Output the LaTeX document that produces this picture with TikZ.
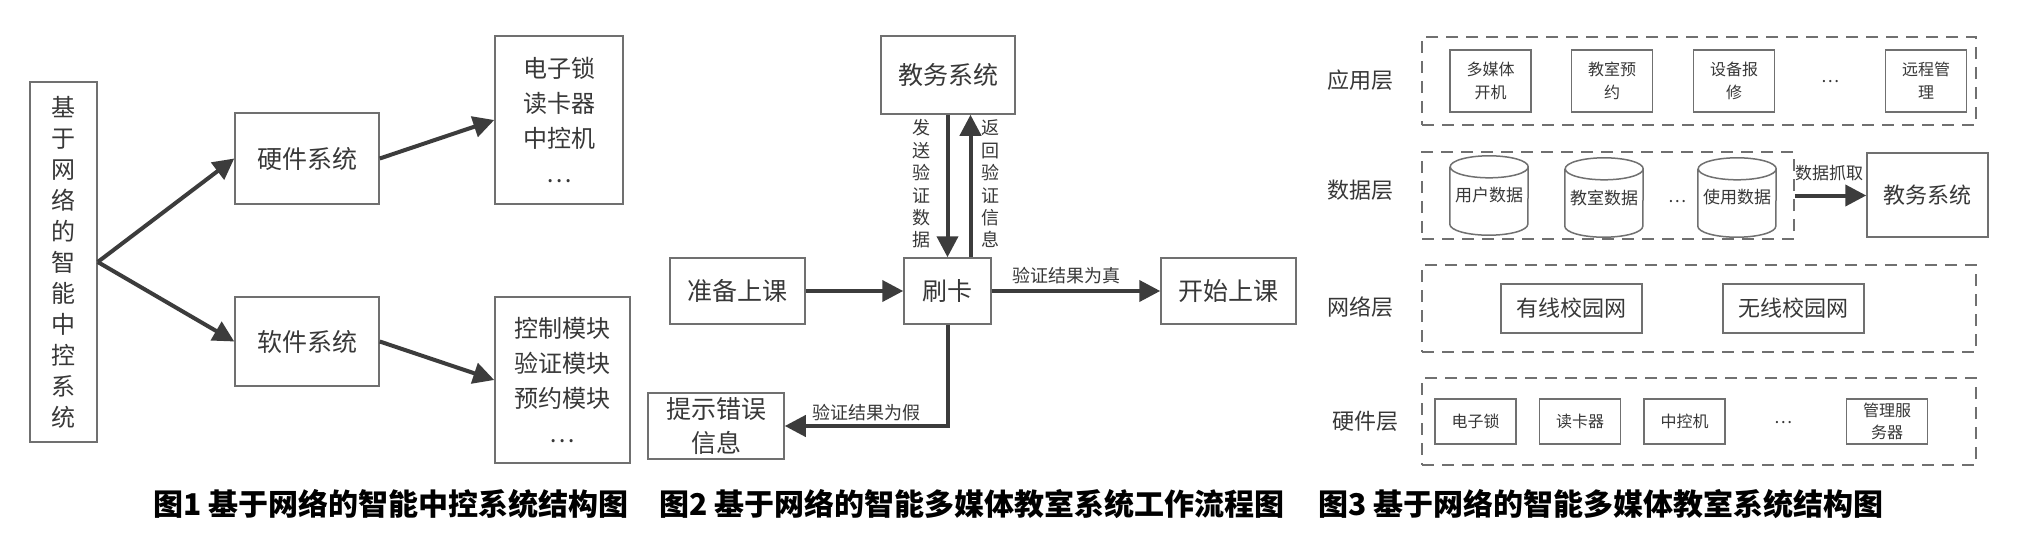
\documentclass[tikz,border=0pt]{standalone}
\usepackage{fontspec}
\setmainfont{Noto Sans CJK SC}
\usetikzlibrary{arrows.meta}
\definecolor{boxc}{HTML}{707070}
\definecolor{arrc}{HTML}{3C3C3C}
\definecolor{txtc}{HTML}{383838}
\newcommand{\fs}[2]{\fontsize{#1}{#2}\selectfont}
\newcommand{\drawcyl}[1]{%
  \draw[draw=boxc, line width=1.5pt] ([yshift=-11pt]#1.north west) -- ([yshift=11pt]#1.south west)
    arc[start angle=180, end angle=360, x radius=39pt, y radius=11pt]
    -- ([yshift=-11pt]#1.north east)
    arc[start angle=0, end angle=360, x radius=39pt, y radius=11pt];}
\begin{document}
\begin{tikzpicture}[x=1pt,y=-1pt,
  box/.style={draw=boxc, line width=1.5pt, rectangle, inner sep=0pt, align=center, text=txtc},
  sbox/.style={box, minimum width=81pt, font=\fs{16}{23}},
  dbox/.style={draw=boxc, line width=1.8pt, dash pattern=on 12pt off 8pt, rectangle, inner sep=0pt},
  arr/.style={draw=arrc, line width=4pt, -{Triangle[length=21pt,width=21pt]}},
  lbl/.style={text=txtc, inner sep=0pt, align=center},
  capt/.style={anchor=west, inner sep=0pt, font=\fs{30}{36}\bfseries, text=black}
]
\useasboundingbox[fill=white] (0,0) rectangle (2021,533);

% ---------- Figure 1 ----------
\node[box, minimum width=67pt, minimum height=360pt, font=\fs{24}{31}] (sys) at (63.5,262)
  {基\\于\\网\\络\\的\\智\\能\\中\\控\\系\\统};
\node[box, minimum width=144pt, minimum height=91pt, font=\fs{25}{30}] (hw) at (307,158.5) {硬件系统};
\node[box, minimum width=144pt, minimum height=89pt, font=\fs{25}{30}] (sw) at (307,341.5) {软件系统};
\node[box, minimum width=128pt, minimum height=168pt, font=\fs{24}{35}] (hwl) at (559,120)
  {电子锁\\读卡器\\中控机\\…};
\node[box, minimum width=135pt, minimum height=166pt, font=\fs{24}{35}] (swl) at (562.5,380)
  {控制模块\\验证模块\\预约模块\\…};
\draw[arr] (sys.east) -- (hw.west);
\draw[arr] (sys.east) -- (sw.west);
\draw[arr] (hw.east) -- (hwl.west);
\draw[arr] (sw.east) -- (swl.west);

% ---------- Figure 2 ----------
\node[box, minimum width=134pt, minimum height=78pt, font=\fs{25}{30}] (jw) at (948,75) {教务系统};
\node[box, minimum width=87pt, minimum height=66pt, font=\fs{25}{30}] (sk) at (947.5,291) {刷卡};
\node[box, minimum width=135pt, minimum height=66pt, font=\fs{25}{30}] (zb) at (737.5,291) {准备上课};
\node[box, minimum width=135pt, minimum height=66pt, font=\fs{25}{30}] (ks) at (1228.5,291) {开始上课};
\node[box, minimum width=136pt, minimum height=66pt, font=\fs{25}{34}] (ts) at (716,426) {提示错误\\信息};
\draw[arr] (jw.south -| sk.north) -- (sk.north);
\draw[arr] ([xshift=23pt]sk.north) -- ([xshift=23pt]sk.north |- jw.south);
\node[lbl, font=\fs{18}{22.4}] (lsend) at (921,184) {发\\送\\验\\证\\数\\据};
\node[lbl, font=\fs{18}{22.4}] (lret) at (990,184) {返\\回\\验\\证\\信\\息};
\draw[arr] (zb.east) -- (sk.west);
\draw[arr] (sk.east) -- (ks.west);
\node[lbl, font=\fs{18}{22}] (ltrue) at (1066,276) {验证结果为真};
\draw[arr] (sk.south) |- (ts.east);
\node[lbl, font=\fs{18}{22}] (lfalse) at (866,413) {验证结果为假};

% ---------- Figure 3 ----------
\node[lbl, font=\fs{22}{26}] (la1) at (1360,80) {应用层};
\node[lbl, font=\fs{22}{26}] (la2) at (1360,190) {数据层};
\node[lbl, font=\fs{22}{26}] (la3) at (1360,307) {网络层};
\node[lbl, font=\fs{22}{26}] (la4) at (1365,421) {硬件层};

\node[dbox, minimum width=554pt, minimum height=88pt] (d1) at (1699,81) {};
\node[dbox, minimum width=372pt, minimum height=87pt] (d2) at (1608,195.5) {};
\node[dbox, minimum width=554pt, minimum height=87pt] (d3) at (1699,308.5) {};
\node[dbox, minimum width=554pt, minimum height=87pt] (d4) at (1699,421.5) {};

\node[sbox, minimum height=62pt] (a1) at (1490.5,81) {多媒体\\开机};
\node[sbox, minimum height=62pt] (a2) at (1612,81) {教室预\\约};
\node[sbox, minimum height=62pt] (a3) at (1734,81) {设备报\\修};
\node[lbl, font=\fs{17}{20}] (adots) at (1830,82) {…};
\node[sbox, minimum height=62pt] (a4) at (1926,81) {远程管\\理};

\node[lbl, minimum width=78pt, minimum height=79pt, font=\fs{17}{20}] (c1) at (1489,195.5) {\raisebox{-5pt}{用户数据}};
\node[lbl, minimum width=78pt, minimum height=79pt, font=\fs{17}{20}] (c2) at (1604,197.5) {\raisebox{-5pt}{教室数据}};
\node[lbl, minimum width=78pt, minimum height=79pt, font=\fs{17}{20}] (c3) at (1737,197.5) {\raisebox{-5pt}{使用数据}};
\drawcyl{c1}
\drawcyl{c2}
\drawcyl{c3}
\node[lbl, font=\fs{17}{20}] (cdots) at (1677,202) {…};

\node[box, minimum width=121pt, minimum height=84pt, font=\fs{22}{26}] (jw3) at (1927.5,195) {教务系统};
\draw[arr] (d2.east) -- (jw3.west |- d2.east);
\node[lbl, font=\fs{17}{20}] (lgrab) at (1829,173) {数据抓取};

\node[box, minimum width=141pt, minimum height=49pt, font=\fs{22}{26}] (n1) at (1571.5,308.5) {有线校园网};
\node[box, minimum width=141pt, minimum height=49pt, font=\fs{22}{26}] (n2) at (1793.5,308.5) {无线校园网};

\node[sbox, minimum height=45pt] (h1) at (1475.5,421.5) {电子锁};
\node[sbox, minimum height=45pt] (h2) at (1580,421.5) {读卡器};
\node[sbox, minimum height=45pt] (h3) at (1684.5,421.5) {中控机};
\node[lbl, font=\fs{17}{20}] (hdots) at (1783,423) {…};
\node[sbox, minimum height=45pt, font=\fs{16}{22}] (h4) at (1887,421.5) {管理服\\务器};

% ---------- Captions ----------
\node[capt] (cap1) at (153,504) {图1 基于网络的智能中控系统结构图};
\node[capt] (cap2) at (659,504) {图2 基于网络的智能多媒体教室系统工作流程图};
\node[capt] (cap3) at (1318,504) {图3 基于网络的智能多媒体教室系统结构图};
\end{tikzpicture}
\end{document}
